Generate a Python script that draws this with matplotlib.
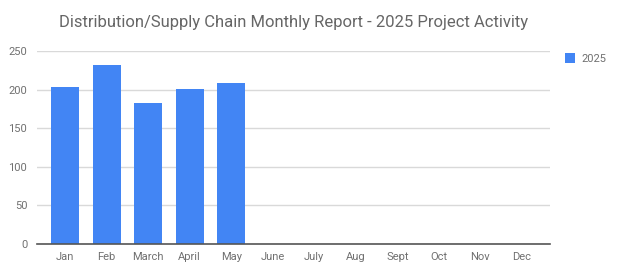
import matplotlib
matplotlib.use("Agg")
import matplotlib.pyplot as plt

months = ["Jan", "Feb", "March", "April", "May", "June", "July", "Aug", "Sept", "Oct", "Nov", "Dec"]
values_2025 = [203, 232, 183, 201, 209, 0, 0, 0, 0, 0, 0, 0]
yticks = [0, 50, 100, 150, 200, 250]

plt.rcParams['font.family'] = ['Roboto', 'DejaVu Sans']

fig = plt.figure(figsize=(6.24, 2.77), dpi=100)
ax = fig.add_axes([37/624, 1 - 244/277, (550-37)/624, (244-51)/277])

x = list(range(len(months)))
bars = ax.bar(x, values_2025, width=0.675, color="#4285F4", label="2025", zorder=3)

ax.set_xlim(-0.675, 11.675)
ax.set_ylim(0, 250)
ax.set_yticks(yticks)
ax.set_xticks(x)
ax.set_xticklabels(months)
ax.grid(axis='y', color='#d9d9d9', linewidth=1, zorder=0)
for s in ['top', 'right', 'left']:
    ax.spines[s].set_visible(False)
ax.spines['bottom'].set_color('#555555')
ax.spines['bottom'].set_linewidth(1.2)
ax.spines['bottom'].set_zorder(4)
ax.tick_params(axis='both', length=0, labelsize=8, labelcolor='#707070')
ax.tick_params(axis='y', pad=7)
ax.tick_params(axis='x', pad=6)

fig.text(0.47, 1 - 23/277, "Distribution/Supply Chain Monthly Report - 2025 Project Activity",
         ha='center', va='center', fontsize=12, color='#666666')

leg = ax.legend(loc='upper left', bbox_to_anchor=(1.01, 1.04), frameon=False,
                fontsize=8, labelcolor='#707070', handlelength=0.9, handleheight=0.9,
                handletextpad=0.6)

fig.savefig("out.png", dpi=100)
